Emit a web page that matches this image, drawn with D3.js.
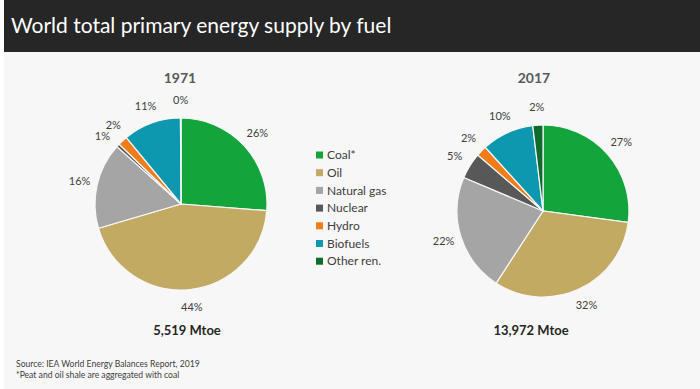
<!DOCTYPE html>
<html>
<head>
<meta charset="utf-8">
<script src="https://cdn.jsdelivr.net/npm/d3@7"></script>
<style>
	body { margin: 0; background: #ffffff; }
	svg { display: block; font-family: Lato, "Open Sans", sans-serif; }
</style>
</head>
<body>
<svg id="chart"></svg>
<script>
// fuel categories and shares (%)
const fuels = ["Coal*", "Oil", "Natural gas", "Nuclear", "Hydro", "Biofuels", "Other ren."];
const colors = ["#13a43c", "#c3aa62", "#a5a5a5", "#585858", "#f07d1a", "#0e98b0", "#0d6b2b"];
const share1971 = [26.1, 44.0, 16.1, 0.6, 1.8, 10.8, 0.1];
const share2017 = [27.1, 32.0, 22.2, 4.9, 2.0, 9.8, 1.9];
const years = ["1971", "2017"];
const totals = ["5,519 Mtoe", "13,972 Mtoe"];
const notes = ["Source: IEA World Energy Balances Report, 2019", "*Peat and oil shale are aggregated with coal"];

const width = 700;
const height = 389;

const svg = d3.select("#chart")
	.attr("width", width)
	.attr("height", height);

// slide background + title bar
svg.append("rect")
	.attr("x", 4).attr("y", 0)
	.attr("width", width - 4).attr("height", height)
	.attr("fill", "#f7f7f7");

svg.append("rect")
	.attr("x", 4).attr("y", 0)
	.attr("width", width - 4).attr("height", 52)
	.attr("fill", "#262626");

svg.append("text")
	.attr("x", 11).attr("y", 33)
	.attr("fill", "#ffffff")
	.style("font-size", "21px")
	.text("World total primary energy supply by fuel");

const radius = 86;
const labelR = radius + 18;
const minGap = 8.5 * Math.PI / 180; // min angle between neighbouring labels

const pie = d3.pie().sort(null).value((d) => d.value);
const arc = d3.arc().innerRadius(0).outerRadius(radius);

// spread labels of tiny neighbouring slices so they don't sit on each other
function labelAngles(arcs) {
	const a = arcs.map((d) => (d.startAngle + d.endAngle) / 2);
	for (let i = 1; i < a.length - 1; i++) {
		const diff = a[i + 1] - a[i];
		if (diff < minGap && arcs[i].data.value < 3 && arcs[i + 1].data.value < 3) {
			const mid = (a[i] + a[i + 1]) / 2;
			a[i] = mid - minGap / 2;
			a[i + 1] = mid + minGap / 2;
		}
	}
	return a;
}

const pies = [
	{ year: years[0], total: totals[0], values: share1971, cx: 181, cy: 204, titleX: 180, totalX: 187 },
	{ year: years[1], total: totals[1], values: share2017, cx: 543, cy: 211, titleX: 534, totalX: 531 }
];

pies.forEach((p) => {
	const data = fuels.map((f, i) => ({ fuel: f, value: p.values[i], color: colors[i] }));
	const arcs = pie(data);
	const angles = labelAngles(arcs);
	const g = svg.append("g").attr("transform", `translate(${p.cx},${p.cy})`);

	g.selectAll("path")
		.data(arcs)
		.join("path")
		.attr("d", arc)
		.attr("fill", (d) => d.data.color)
		.attr("stroke", "#f7f7f7")
		.attr("stroke-width", 1.2);

	g.selectAll("text.pct")
		.data(arcs)
		.join("text")
		.attr("class", "pct")
		.attr("x", (d, i) => labelR * Math.sin(angles[i]))
		.attr("y", (d, i) => -labelR * Math.cos(angles[i]))
		.attr("text-anchor", "middle")
		.attr("dy", "0.35em")
		.attr("fill", "#404040")
		.style("font-size", "11px")
		.text((d) => `${Math.round(d.data.value)}%`);

	svg.append("text")
		.attr("x", p.titleX).attr("y", 83)
		.attr("text-anchor", "middle")
		.attr("fill", "#595959")
		.style("font-size", "14px")
		.style("font-weight", "bold")
		.text(p.year);

	svg.append("text")
		.attr("x", p.totalX).attr("y", 335)
		.attr("text-anchor", "middle")
		.attr("fill", "#262626")
		.style("font-size", "13px")
		.style("font-weight", "bold")
		.text(p.total);
});

// legend
const legend = svg.append("g").attr("transform", "translate(316,155)");
const rows = legend.selectAll("g")
	.data(fuels)
	.join("g")
	.attr("transform", (d, i) => `translate(0,${i * 17.7})`);

rows.append("rect")
	.attr("x", 0).attr("y", -3.5)
	.attr("width", 7).attr("height", 7)
	.attr("fill", (d, i) => colors[i]);

rows.append("text")
	.attr("x", 11)
	.attr("dy", "0.35em")
	.attr("fill", "#404040")
	.style("font-size", "12px")
	.text((d) => d);

// footnotes
svg.selectAll("text.note")
	.data(notes)
	.join("text")
	.attr("class", "note")
	.attr("x", 16)
	.attr("y", (d, i) => 367 + i * 10.5)
	.attr("fill", "#404040")
	.style("font-size", "8.6px")
	.text((d) => d);
</script>
</body>
</html>
